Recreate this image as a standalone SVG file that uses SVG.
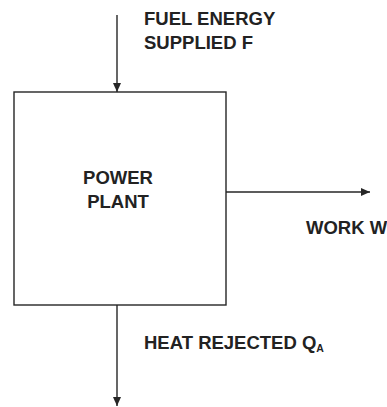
<svg xmlns="http://www.w3.org/2000/svg" width="387" height="407" viewBox="0 0 387 407">
<defs>
<style>
.t{font-family:"Liberation Sans",Arial,sans-serif;font-weight:bold;font-size:18.5px;fill:#222}
.c{stroke:#262626;stroke-width:1.4;fill:none}
</style>
<marker id="ah" markerWidth="10" markerHeight="10" refX="9" refY="4" orient="auto" markerUnits="userSpaceOnUse">
<path d="M0,0 L9,4 L0,8 Z" fill="#262626"/>
</marker>
</defs>
<rect width="387" height="407" fill="#fff"/>
<g id="plant">
<rect x="14" y="92" width="212" height="213" class="c"/>
<text class="t" x="118" y="184" text-anchor="middle">POWER</text>
<text class="t" x="118" y="208" text-anchor="middle">PLANT</text>
</g>
<g id="labels">
<text class="t" x="144" y="25">FUEL ENERGY</text>
<text class="t" x="144" y="49">SUPPLIED F</text>
<text class="t" x="306" y="234">WORK W</text>
<text class="t" x="144" y="349">HEAT REJECTED Q<tspan font-size="10.5" dy="3">A</tspan></text>
</g>
<g id="connectors">
<line class="c" x1="117" y1="15" x2="117" y2="92" marker-end="url(#ah)"/>
<line class="c" x1="226" y1="192" x2="370" y2="192" marker-end="url(#ah)"/>
<line class="c" x1="117" y1="305" x2="117" y2="406" marker-end="url(#ah)"/>
</g>
</svg>
